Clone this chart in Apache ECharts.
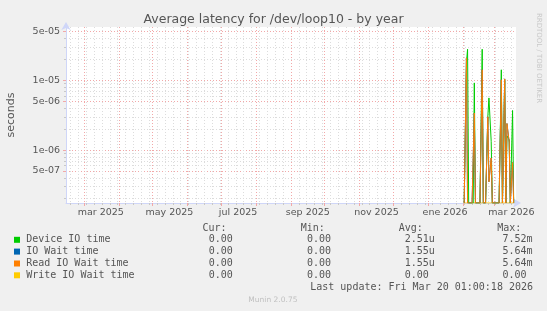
<!DOCTYPE html>
<html>
<head>
<meta charset="utf-8">
<style>
html, body { margin: 0; padding: 0; background: #F0F0F0; }
#chart { width: 547px; height: 311px; }
</style>
<script src="https://cdn.jsdelivr.net/npm/echarts@6/dist/echarts.min.js"></script>
</head>
<body>
<div id="chart"></div>
<script>
// daily samples (only the last weeks carry data)
var days = [
    '2026-02-02', '2026-02-03', '2026-02-04', '2026-02-05', '2026-02-06', '2026-02-07', '2026-02-08',
    '2026-02-09', '2026-02-10', '2026-02-11', '2026-02-12', '2026-02-13', '2026-02-14', '2026-02-15',
    '2026-02-16', '2026-02-17', '2026-02-18', '2026-02-19', '2026-02-20', '2026-02-21', '2026-02-22',
    '2026-02-23', '2026-02-24', '2026-02-25', '2026-02-26', '2026-02-27', '2026-02-28', '2026-03-01',
    '2026-03-02', '2026-03-03', '2026-03-04', '2026-03-05', '2026-03-06', '2026-03-07', '2026-03-08',
    '2026-03-09', '2026-03-10', '2026-03-11', '2026-03-12', '2026-03-13', '2026-03-14', '2026-03-15',
    '2026-03-16', '2026-03-17', '2026-03-18'
];
var deviceIoTime = [
    0, 0, 1.8e-5, 2.8e-5, 0, 0, 0,
    0, 0, 9.2e-6, 0, 0, 0, 0,
    0, 0, 2.8e-5, 0, 0, 0, 0,
    3.0e-6, 5.6e-6, 5.4e-6, 1.33e-6, 0, 0, 0,
    0, 0, 0, 0, 0, 1.42e-5, 0,
    0, 1.0e-5, 0, 1.6e-6, 1.6e-6, 1.4e-6, 0,
    0, 3.7e-6, 0
];
var readIoWaitTime = [
    0, 0, 2.1e-5, 0, 0, 0, 0,
    0, 0, 3.4e-6, 0, 0, 0, 0,
    0, 0, 1.42e-5, 0, 0, 0, 0,
    3.0e-6, 3.5e-7, 3.5e-7, 7.7e-7, 0, 0, 0,
    0, 0, 0, 0, 0, 1.02e-5, 0,
    0, 1.05e-5, 0, 2.4e-6, 2.4e-6, 1.3e-6, 0,
    0, 6.6e-7, 0
];
// munin reports the same numbers for IO wait and read IO wait
var ioWaitTime = readIoWaitTime.slice();
var writeIoWaitTime = [
    0, 0, 0, 0, 0, 0, 0,
    0, 0, 0, 0, 0, 0, 0,
    0, 0, 0, 0, 0, 0, 0,
    0, 0, 0, 0, 0, 0, 0,
    0, 0, 0, 0, 0, 0, 0,
    0, 0, 0, 0, 0, 0, 0,
    0, 0, 0
];

var seriesNames = ['Device IO time', 'IO Wait time', 'Read IO Wait time', 'Write IO Wait time'];
var seriesColors = ['#00CC00', '#0066B3', '#FF8000', '#FFCC00'];
var curValues = ['0.00', '0.00', '0.00', '0.00'];
var minValues = ['0.00', '0.00', '0.00', '0.00'];
var avgValues = ['2.51u', '1.55u', '1.55u', '0.00'];
var maxValues = ['7.52m', '5.64m', '5.64m', '0.00'];

var monthStarts = ['2025-03-01', '2025-04-01', '2025-05-01', '2025-06-01', '2025-07-01', '2025-08-01',
    '2025-09-01', '2025-10-01', '2025-11-01', '2025-12-01', '2026-01-01', '2026-02-01', '2026-03-01'];
var xLabelDays = ['2025-03-16', '2025-05-16', '2025-07-16', '2025-09-16', '2025-11-16', '2026-01-16', '2026-03-16'];
var xLabels = ['mar 2025', 'may 2025', 'jul 2025', 'sep 2025', 'nov 2025', 'ene 2026', 'mar 2026'];

var yLabelValues = [5e-7, 1e-6, 5e-6, 1e-5, 5e-5];
var yLabels = ['5e-07', '1e-06', '5e-06', '1e-05', '5e-05'];

var DAY = 86400000;
function ts(s){
    return Date.parse(s + 'T00:00:00Z');
}
var X_END = Date.parse('2026-03-20T01:00:18Z');
var X_START = X_END - 400 * DAY;
var Y_MIN = 1.736e-7;
var Y_MAX = 5.84e-5;

// weekly minor grid (mondays)
var weekTicks = [];
for(let w = ts('2025-02-17'); w < X_END; w += 7 * DAY){
    weekTicks.push(w);
}
// minor log grid 2..9 per decade
var yMinor = [];
for(let e = -7; e <= -5; e++){
    for(let m = 2; m <= 9; m++){
        let v = m * Math.pow(10, e);
        if(v > Y_MIN && v < Y_MAX && yLabelValues.indexOf(v) < 0){
            yMinor.push(Math.log10(v));
        }
    }
}

var xLabelTimes = xLabelDays.map(ts);
var yLabelLogs = yLabelValues.map(v => Math.log10(v));

var fontColor = '#555555';
var axisColor = '#CFD6F8';
var minorGrid = { color: '#DCDCDC', width: 1, type: [1, 2] };
var majorGrid = { color: '#F2A8A8', width: 1, type: [1, 2] };

function buildSeries(name, color, values, z){
    // rrdtool pins zero values to the bottom edge of a log axis
    let data = [];
    for(let i = 0, len = days.length; i < len; i++){
        data.push([ts(days[i]), values[i] > 0 ? values[i] : Y_MIN]);
    }
    return {
        name: name,
        type: 'line',
        xAxisIndex: 0,
        yAxisIndex: 0,
        data: data,
        showSymbol: false,
        symbol: 'none',
        clip: true,
        z: z,
        lineStyle: { color: color, width: 1 },
        itemStyle: { color: color }
    };
}

var mono = '10px "DejaVu Sans Mono"';
var graphic = [];
function addText(text, x, y, font, fill, align){
    graphic.push({
        type: 'text', x: x, y: y, silent: true,
        style: {
            text: text, font: font, fill: fill,
            align: align || 'left', textAlign: align || 'left',
            verticalAlign: 'middle', textVerticalAlign: 'middle'
        }
    });
}
addText('Average latency for /dev/loop10 - by year', 273.5, 19.5, '12.5px "DejaVu Sans"', fontColor, 'center');
graphic.push({
    type: 'text', x: 539, y: 58, rotation: -Math.PI / 2, silent: true,
    style: {
        text: 'RRDTOOL / TOBI OETIKER', font: '7px "DejaVu Sans"', fill: '#C8C8C8',
        align: 'center', textAlign: 'center', verticalAlign: 'middle', textVerticalAlign: 'middle'
    }
});
addText('Cur:', 202.4, 228.3, mono, fontColor);
addText('Min:', 300.8, 228.3, mono, fontColor);
addText('Avg:', 398.8, 228.3, mono, fontColor);
addText('Max:', 497.2, 228.3, mono, fontColor);
var rowY = [239.8, 251.6, 263.5, 275.3];
for(let i = 0; i < seriesNames.length; i++){
    graphic.push({
        type: 'rect', silent: true,
        shape: { x: 14, y: rowY[i] - 3, width: 6, height: 6 },
        style: { fill: seriesColors[i] }
    });
    addText(seriesNames[i], 26.2, rowY[i], mono, fontColor);
    addText(curValues[i], 208.7, rowY[i], mono, fontColor);
    addText(minValues[i], 307, rowY[i], mono, fontColor);
    addText(avgValues[i], 404.7, rowY[i], mono, fontColor);
    addText(maxValues[i], 502.4, rowY[i], mono, fontColor);
}
addText('Last update: Fri Mar 20 01:00:18 2026', 533, 287.2, mono, fontColor, 'right');
addText('Munin 2.0.75', 272.9, 300, '7.5px "DejaVu Sans"', '#C0C0C0', 'center');

var option = {
    backgroundColor: '#F0F0F0',
    animation: false,
    grid: {
        left: 66,
        right: 31,
        top: 27,
        bottom: 108,
        outerBoundsMode: 'none',
        containLabel: false,
        show: true,
        backgroundColor: '#FFFFFF',
        borderWidth: 0
    },
    xAxis: [
        {
            type: 'value', min: X_START, max: X_END, show: false
        },
        {
            type: 'value', min: X_START, max: X_END, position: 'bottom',
            axisLine: { show: false, onZero: false },
            axisLabel: { show: false },
            axisTick: { show: true, length: 2, customValues: weekTicks, lineStyle: { color: '#C8C8C8' } },
            splitLine: { show: true, lineStyle: minorGrid }
        },
        {
            type: 'value', min: X_START, max: X_END, position: 'bottom',
            axisLine: {
                show: true, onZero: false,
                symbol: ['none', 'arrow'], symbolSize: [7, 8], symbolOffset: [0, 5],
                lineStyle: { color: axisColor, width: 1 }
            },
            axisTick: { show: true, length: 3, customValues: monthStarts.map(ts), lineStyle: { color: '#F2A8A8' } },
            axisLabel: {
                show: true,
                customValues: xLabelTimes,
                margin: 5,
                color: fontColor,
                fontFamily: 'DejaVu Sans',
                fontSize: 9.5,
                formatter: function(v){
                    for(let i = 0; i < xLabelTimes.length; i++){
                        if(Math.abs(xLabelTimes[i] - v) < 1000){
                            return xLabels[i];
                        }
                    }
                    return '';
                }
            },
            splitLine: { show: true, lineStyle: majorGrid }
        }
    ],
    yAxis: [
        {
            type: 'log', logBase: 10, min: Y_MIN, max: Y_MAX, show: false
        },
        {
            type: 'value', position: 'left',
            min: Math.log10(Y_MIN), max: Math.log10(Y_MAX),
            axisLine: { show: false, onZero: false },
            axisLabel: { show: false },
            axisTick: { show: true, length: 2, customValues: yMinor, lineStyle: { color: '#C8C8C8' } },
            splitLine: { show: true, lineStyle: minorGrid }
        },
        {
            type: 'value', position: 'left',
            min: Math.log10(Y_MIN), max: Math.log10(Y_MAX),
            name: 'seconds',
            nameLocation: 'middle',
            nameGap: 49,
            nameTextStyle: { color: fontColor, fontFamily: 'DejaVu Sans', fontSize: 11 },
            axisLine: {
                show: true, onZero: false,
                symbol: ['none', 'arrow'], symbolSize: [7, 8], symbolOffset: [0, 5],
                lineStyle: { color: axisColor, width: 1 }
            },
            axisTick: { show: true, length: 3, customValues: yLabelLogs, lineStyle: { color: '#F2A8A8' } },
            axisLabel: {
                show: true,
                customValues: yLabelLogs,
                margin: 6,
                color: fontColor,
                fontFamily: 'DejaVu Sans',
                fontSize: 9.5,
                formatter: function(v){
                    for(let i = 0; i < yLabelLogs.length; i++){
                        if(Math.abs(yLabelLogs[i] - v) < 1e-6){
                            return yLabels[i];
                        }
                    }
                    return '';
                }
            },
            splitLine: { show: true, lineStyle: majorGrid }
        }
    ],
    graphic: graphic,
    series: [
        buildSeries(seriesNames[3], seriesColors[3], writeIoWaitTime, 2),
        buildSeries(seriesNames[0], seriesColors[0], deviceIoTime, 3),
        buildSeries(seriesNames[1], seriesColors[1], ioWaitTime, 4),
        buildSeries(seriesNames[2], seriesColors[2], readIoWaitTime, 5)
    ]
};

var myChart = echarts.init(document.getElementById('chart'), null, { renderer: 'canvas' });
myChart.setOption(option);
</script>
</body>
</html>
